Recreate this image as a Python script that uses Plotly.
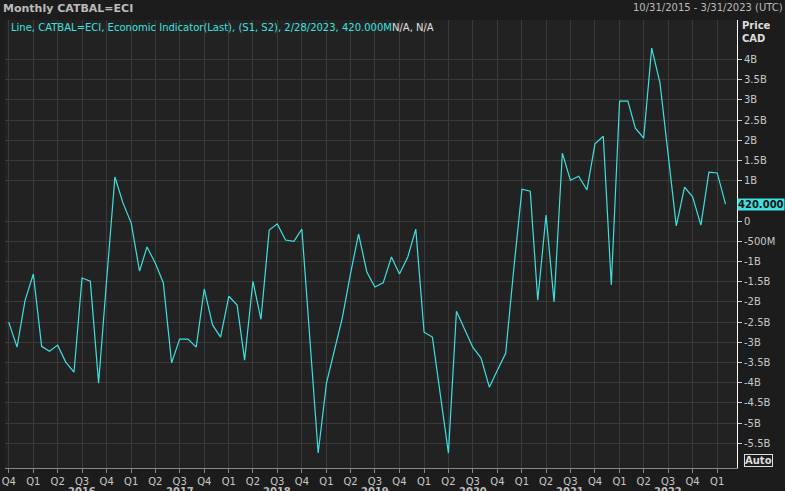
import plotly.graph_objects as go
import pandas as pd

dates = pd.date_range("2015-10-01", "2023-02-01", freq="MS")
values_b = [
    -2.5, -3.12, -1.96,
    -1.31, -3.1, -3.22, -3.07, -3.49, -3.74, -1.41, -1.49, -4.01, -1.46, 1.09, 0.45,
    -0.05, -1.24, -0.64, -1.04, -1.53, -3.51, -2.92, -2.92, -3.12, -1.68, -2.57, -2.87,
    -1.86, -2.08, -3.44, -1.49, -2.43, -0.22, -0.07, -0.47, -0.5, -0.2, -2.9, -5.74,
    -4.01, -3.2, -2.4, -1.3, -0.32, -1.26, -1.63, -1.53, -0.89, -1.31, -0.89, -0.2,
    -2.75, -2.87, -4.3, -5.74, -2.23, -2.67, -3.12, -3.39, -4.11, -3.69, -3.27, -1.21,
    0.79, 0.74, -1.96, 0.15, -2.0, 1.68, 1.01, 1.11, 0.77, 1.91, 2.1, -1.58,
    2.97, 2.97, 2.3, 2.05, 4.28, 3.42, 1.6, -0.12, 0.84, 0.6, -0.1, 1.21,
    1.19, 0.42,
]
values = [v * 1e9 for v in values_b]

ytick_vals = [v * 1e9 for v in [4, 3.5, 3, 2.5, 2, 1.5, 1, 0, -0.5, -1, -1.5, -2, -2.5, -3, -3.5, -4, -4.5, -5, -5.5]]
ytick_text = ["4B", "3.5B", "3B", "2.5B", "2B", "1.5B", "1B", "0", "-500M", "-1B", "-1.5B", "-2B",
              "-2.5B", "-3B", "-3.5B", "-4B", "-4.5B", "-5B", "-5.5B"]
qdates = pd.date_range("2015-10-01", "2023-01-01", freq="QS")
qtext = ["Q%d" % ((d.month - 1) // 3 + 1) for d in qdates]
years = ["2016", "2017", "2018", "2019", "2020", "2021", "2022"]

cyan = "#3fe0e0"
grid = "#3a3a3a"
fnt = "DejaVu Sans"

fig = go.Figure()
fig.add_trace(go.Scatter(x=dates, y=values, mode="lines", line=dict(color=cyan, width=1.2),
                         showlegend=False, hoverinfo="skip"))

fig.update_layout(
    width=785, height=491,
    margin=dict(l=5, r=48, t=20, b=23),
    paper_bgcolor="#1c1c1c", plot_bgcolor="#222222",
    font=dict(family=fnt, size=10, color="#c8c8c8"),
    xaxis=dict(range=["2015-09-17", "2023-03-16"], tickvals=qdates, ticktext=qtext, automargin=False,
               showgrid=True, gridcolor=grid, gridwidth=1, ticks="outside", ticklen=4,
               tickcolor="#888", zeroline=False, showline=True, linecolor="#888",
               tickfont=dict(color="#c8c8c8", size=10)),
    yaxis=dict(range=[-6.11e9, 4.975e9], side="right", tickvals=ytick_vals, ticktext=ytick_text,
               automargin=False,
               showgrid=True, gridcolor=grid, ticks="outside", ticklen=4, tickcolor="#ccc",
               zeroline=False, showline=True, linecolor="#ffffff",
               tickfont=dict(color="#c8c8c8", size=10)),
)

fig.add_annotation(xref="paper", yref="paper", x=-0.005, y=1, yshift=20, xanchor="left", yanchor="top",
                   text="<b>Monthly CATBAL=ECI</b>", showarrow=False, font=dict(color="#bbbbbb", size=11))
fig.add_annotation(xref="paper", yref="paper", x=1.066, y=1, yshift=20, xanchor="right", yanchor="top",
                   text="10/31/2015 - 3/31/2023 (UTC)", showarrow=False, font=dict(color="#bbbbbb", size=10))
fig.add_annotation(xref="paper", yref="paper", x=0.005, y=1, xanchor="left", yanchor="top",
                   text="Line, CATBAL=ECI, Economic Indicator(Last), (S1, S2), 2/28/2023, 420.000M<span style='color:#e0e0e0'>N/A, N/A</span>",
                   showarrow=False, font=dict(color=cyan, size=10))
fig.add_annotation(xref="paper", yref="paper", x=1, xshift=3, y=1, yshift=2, xanchor="left", yanchor="top",
                   text="<b>Price<br>CAD</b>", showarrow=False, align="left", font=dict(color="#dddddd", size=10))
fig.add_annotation(xref="paper", yref="y", x=1, xshift=0, y=values[-1], xanchor="left", yanchor="middle",
                   text="<b>420.000</b>", showarrow=False, bgcolor=cyan, borderpad=0,
                   font=dict(color="#111", size=10))
fig.add_annotation(xref="paper", yref="paper", x=1, xshift=7, y=0, yshift=1, xanchor="left", yanchor="bottom",
                   text="<b>Auto</b>", showarrow=False, bordercolor="#ddd", borderwidth=1, borderpad=0,
                   bgcolor="#1c1c1c", font=dict(color="#dddddd", size=10))
for i, yr in enumerate(years):
    fig.add_annotation(xref="x", yref="paper", x="%s-07-01" % yr, y=0, yshift=-16, xanchor="center",
                       yanchor="top", text="<b>%s</b>" % yr, showarrow=False, font=dict(color="#bbbbbb", size=10))

fig.write_html("out.html", config={"displayModeBar": False},
               post_script="document.body.style.margin='0';document.body.style.overflow='hidden';")
